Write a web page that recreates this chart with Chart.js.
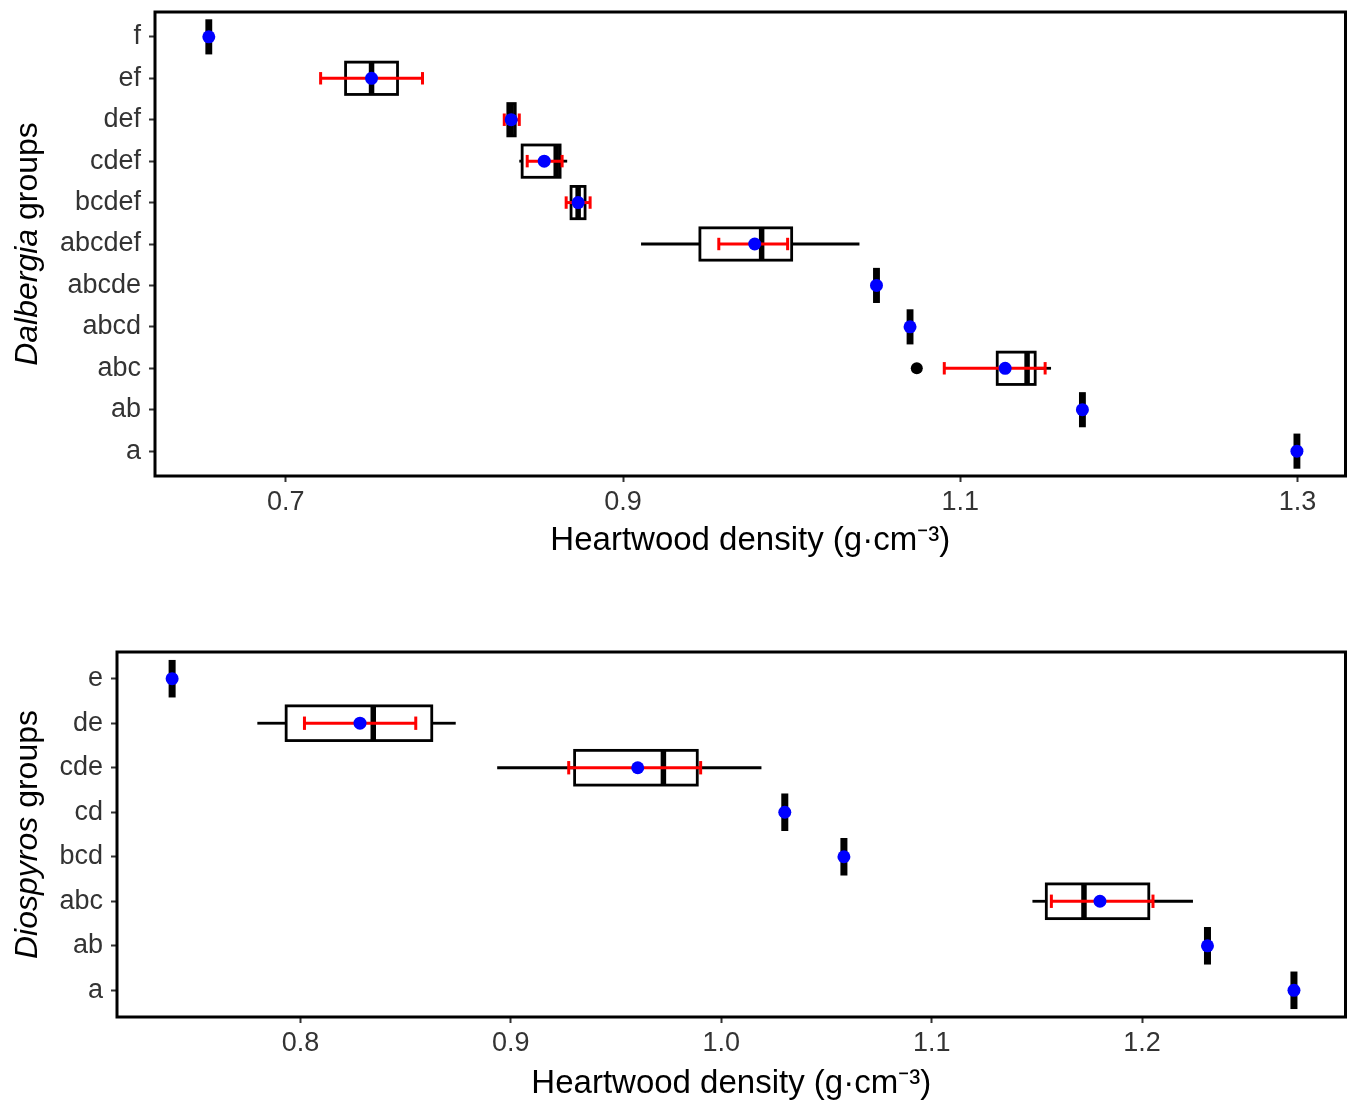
<!DOCTYPE html>
<html>
<head>
<meta charset="utf-8">
<script src="https://cdn.jsdelivr.net/npm/chart.js@4.4.1/dist/chart.umd.min.js"></script>
<style>
  body { margin: 0; background: #fff; width: 1352px; height: 1108px; position: relative; overflow: hidden; }
  canvas { position: absolute; left: 0; }
  #c1 { top: 0; }
  #c2 { top: 640px; }
</style>
</head>
<body>
<canvas id="c1" width="1352" height="561"></canvas>
<canvas id="c2" width="1352" height="468"></canvas>
<script>
// Dalbergia panel, groups listed top to bottom
const dalGroups = ["f", "ef", "def", "cdef", "bcdef", "abcdef", "abcde", "abcd", "abc", "ab", "a"];
const dalQ1     = [0.6532, 0.7355, 0.8317, 0.8402, 0.8692, 0.9456, 1.0491, 1.0690, 1.1219, 1.1712, 1.2984];
const dalMedian = [0.6544, 0.7509, 0.8337, 0.8604, 0.8734, 0.9822, 1.0503, 1.0702, 1.1396, 1.1724, 1.2996];
const dalQ3     = [0.6556, 0.7663, 0.8361, 0.8627, 0.8775, 1.0000, 1.0515, 1.0714, 1.1444, 1.1736, 1.3008];
const dalWhiskLo = [0.6532, 0.7355, 0.8317, 0.8385, 0.8692, 0.9107, 1.0491, 1.0690, 1.1219, 1.1712, 1.2984];
const dalWhiskHi = [0.6556, 0.7663, 0.8361, 0.8669, 0.8775, 1.0402, 1.0515, 1.0714, 1.1538, 1.1736, 1.3008];
const dalMean   = [0.6544, 0.7509, 0.8337, 0.8533, 0.8734, 0.9781, 1.0503, 1.0702, 1.1266, 1.1724, 1.2996];
const dalErrLo  = [null, 0.7207, 0.8296, 0.8432, 0.8663, 0.9568, null, null, 1.0905, null, null];
const dalErrHi  = [null, 0.7811, 0.8385, 0.8639, 0.8805, 0.9976, null, null, 1.1503, null, null];
const dalOutlierGroup = ["abc"];
const dalOutlierValue = [1.0742];
const dalTicks = [0.7, 0.9, 1.1, 1.3];

// Diospyros panel
const dioGroups = ["e", "de", "cde", "cd", "bcd", "abc", "ab", "a"];
const dioQ1     = [0.7380, 0.7932, 0.9303, 1.0292, 1.0573, 1.1545, 1.2301, 1.2712];
const dioMedian = [0.7390, 0.8346, 0.9725, 1.0302, 1.0583, 1.1724, 1.2311, 1.2722];
const dioQ3     = [0.7400, 0.8624, 0.9886, 1.0312, 1.0593, 1.2032, 1.2321, 1.2732];
const dioWhiskLo = [0.7380, 0.7795, 0.8935, 1.0292, 1.0573, 1.1479, 1.2301, 1.2712];
const dioWhiskHi = [0.7400, 0.8738, 1.0191, 1.0312, 1.0593, 1.2242, 1.2321, 1.2732];
const dioMean   = [0.7390, 0.8283, 0.9603, 1.0302, 1.0583, 1.1800, 1.2311, 1.2722];
const dioErrLo  = [null, 0.8019, 0.9275, null, null, 1.1569, null, null];
const dioErrHi  = [null, 0.8548, 0.9902, null, null, 1.2052, null, null];
const dioOutlierGroup = [];
const dioOutlierValue = [];
const dioTicks = [0.8, 0.9, 1.0, 1.1, 1.2];

const FONT = "'Liberation Sans', Arial, sans-serif";
const TICK_COLOR = "#333";

// boxes, whiskers and red error bars, drawn under the mean points
const boxPlugin = {
  id: "boxes",
  beforeDatasetsDraw(chart) {
    const d = chart.options.plugins.boxes;
    const { ctx } = chart;
    const x = chart.scales.x, y = chart.scales.y;
    const px = v => x.getPixelForValue(v);
    const half = Math.abs(y.getPixelForValue(0.39) - y.getPixelForValue(0));
    const cap = Math.abs(y.getPixelForValue(0.15) - y.getPixelForValue(0));
    const seg = (x0, y0, x1, y1) => { ctx.beginPath(); ctx.moveTo(x0, y0); ctx.lineTo(x1, y1); ctx.stroke(); };
    ctx.save();
    ctx.strokeStyle = "#000";
    ctx.lineCap = "butt";
    d.groups.forEach((g, i) => {
      const yc = y.getPixelForValue(i);
      ctx.lineWidth = 2.8;
      seg(px(d.whiskLo[i]), yc, px(d.q1[i]), yc);
      seg(px(d.q3[i]), yc, px(d.whiskHi[i]), yc);
      ctx.fillStyle = "#fff";
      ctx.fillRect(px(d.q1[i]), yc - half, px(d.q3[i]) - px(d.q1[i]), half * 2);
      ctx.strokeRect(px(d.q1[i]), yc - half, px(d.q3[i]) - px(d.q1[i]), half * 2);
      ctx.lineWidth = 5.5;
      seg(px(d.median[i]), yc - half, px(d.median[i]), yc + half);
    });
    ctx.strokeStyle = "#ff0000";
    ctx.lineWidth = 3;
    d.groups.forEach((g, i) => {
      if (d.errLo[i] == null) return;
      const yc = y.getPixelForValue(i);
      const a = px(d.errLo[i]), b = px(d.errHi[i]);
      seg(a, yc, b, yc);
      seg(a, yc - cap, a, yc + cap);
      seg(b, yc - cap, b, yc + cap);
    });
    ctx.restore();
  },
  afterDraw(chart) {
    const d = chart.options.plugins.boxes;
    const { ctx, chartArea: ca } = chart;
    ctx.save();
    ctx.strokeStyle = "#000";
    ctx.lineWidth = 3;
    ctx.strokeRect(ca.left, ca.top, ca.right - ca.left, ca.bottom - ca.top);
    // y title: italic genus + plain "groups"
    ctx.translate(28, (ca.top + ca.bottom) / 2);
    ctx.rotate(-Math.PI / 2);
    ctx.fillStyle = "#000";
    ctx.textBaseline = "middle";
    ctx.textAlign = "left";
    const fi = "italic 32px " + FONT, fn = "32px " + FONT;
    ctx.font = fi;
    const w1 = ctx.measureText(d.genus).width;
    ctx.font = fn;
    const w2 = ctx.measureText(" groups").width;
    const start = -(w1 + w2) / 2;
    ctx.font = fi;
    ctx.fillText(d.genus, start, 0);
    ctx.font = fn;
    ctx.fillText(" groups", start + w1, 0);
    ctx.restore();
  }
};

function noPad(sc) {
  sc.paddingTop = 0; sc.paddingBottom = 0; sc.paddingLeft = 0; sc.paddingRight = 0;
}

function makeChart(id, s) {
  const n = s.groups.length;
  const outliers = s.outGroup.map((g, k) => ({ x: s.outValue[k], y: s.groups.indexOf(g) }));
  return new Chart(document.getElementById(id), {
    type: "scatter",
    data: {
      datasets: [
        {
          label: "outliers",
          data: outliers,
          pointRadius: 6,
          pointBackgroundColor: "#000",
          pointBorderWidth: 0
        },
        {
          label: "mean",
          data: s.mean.map((m, i) => ({ x: m, y: i })),
          pointRadius: 6.5,
          pointBackgroundColor: "#0000ff",
          pointBorderWidth: 0
        }
      ]
    },
    options: {
      responsive: false,
      devicePixelRatio: 1,
      animation: false,
      layout: { padding: { top: 12, right: 3, left: 0, bottom: s.padBottom } },
      plugins: {
        legend: { display: false },
        tooltip: { enabled: false },
        boxes: {
          genus: s.genus, groups: s.groups, q1: s.q1, median: s.median, q3: s.q3,
          whiskLo: s.whiskLo, whiskHi: s.whiskHi, errLo: s.errLo, errHi: s.errHi
        }
      },
      scales: {
        x: {
          type: "linear",
          min: s.xmin,
          max: s.xmax,
          afterBuildTicks: sc => { sc.ticks = s.ticks.map(v => ({ value: v })); },
          afterFit: sc => { sc.height = s.xAxisHeight; noPad(sc); },
          border: { display: false },
          grid: { drawOnChartArea: false, drawTicks: true, tickLength: 6, tickWidth: 2, tickColor: TICK_COLOR },
          ticks: {
            padding: 4,
            color: TICK_COLOR,
            font: { family: FONT, size: 27 },
            callback: v => v.toFixed(1)
          },
          title: {
            display: true,
            text: "Heartwood density (g\u00B7cm\u207B\u00B3)",
            color: "#000",
            font: { family: FONT, size: 33 },
            padding: 0
          }
        },
        y: {
          type: "linear",
          reverse: true,
          min: -0.6,
          max: n - 1 + 0.6,
          afterBuildTicks: sc => { sc.ticks = s.groups.map((g, i) => ({ value: i })); },
          afterFit: sc => { sc.width = s.left; noPad(sc); },
          border: { display: false },
          grid: { drawOnChartArea: false, drawTicks: true, tickLength: 6, tickWidth: 2, tickColor: TICK_COLOR },
          ticks: {
            padding: 8,
            color: TICK_COLOR,
            font: { family: FONT, size: 27 },
            callback: v => s.groups[v]
          }
        }
      }
    },
    plugins: [boxPlugin]
  });
}

makeChart("c1", {
  genus: "Dalbergia", groups: dalGroups, q1: dalQ1, median: dalMedian, q3: dalQ3,
  whiskLo: dalWhiskLo, whiskHi: dalWhiskHi, mean: dalMean, errLo: dalErrLo, errHi: dalErrHi,
  outGroup: dalOutlierGroup, outValue: dalOutlierValue, ticks: dalTicks,
  xmin: 0.6225, xmax: 1.3284, left: 155, xAxisHeight: 561 - 476, padBottom: 0
});

makeChart("c2", {
  genus: "Diospyros", groups: dioGroups, q1: dioQ1, median: dioMedian, q3: dioQ3,
  whiskLo: dioWhiskLo, whiskHi: dioWhiskHi, mean: dioMean, errLo: dioErrLo, errHi: dioErrHi,
  outGroup: dioOutlierGroup, outValue: dioOutlierValue, ticks: dioTicks,
  xmin: 0.7128, xmax: 1.2967, left: 117, xAxisHeight: 464 - 377, padBottom: 4
});
</script>
</body>
</html>
